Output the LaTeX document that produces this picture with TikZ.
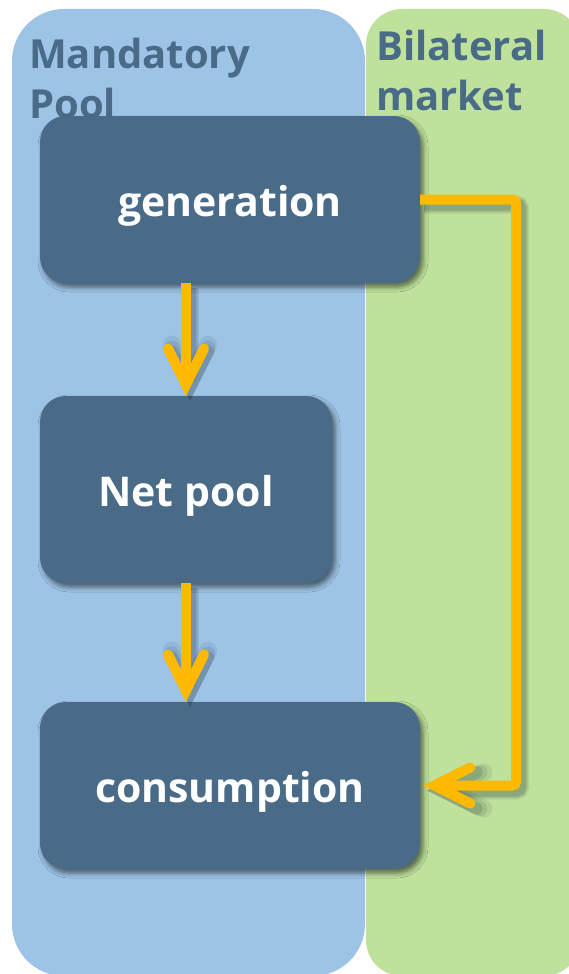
\documentclass[tikz,border=0pt]{standalone}
\usepackage{fontspec}
\setmainfont{Open Sans}
\usetikzlibrary{arrows.meta,shadows.blur}

\definecolor{poolblue}{HTML}{9DC3E6}
\definecolor{marketgreen}{HTML}{BEE19B}
\definecolor{boxblue}{HTML}{4A6B88}
\definecolor{flowgold}{HTML}{FFB900}

\tikzset{
  heading/.style={inner sep=0pt, anchor=base west, align=left, text=boxblue,
    font=\bfseries\fontsize{40pt}{50pt}\selectfont},
  stage/.style={fill=boxblue, rounded corners=26pt, inner sep=0pt, text=white,
    text height=40pt, text depth=6pt,
    font=\bfseries\fontsize{41pt}{49pt}\selectfont,
    blur shadow={shadow xshift=3pt, shadow yshift=-4pt, shadow blur radius=5pt, shadow opacity=55}},
  flowtip/.style={-{Straight Barb[length=36pt, width=36pt, line cap=round, line join=miter]}},
  flow/.style={flowtip, draw=flowgold, line width=10pt, line cap=butt, rounded corners=4pt},
  flowshade/.style={flowtip, draw=black!70!boxblue, line cap=butt, rounded corners=4pt,
    transform canvas={xshift=4pt, yshift=-5pt}},
}

% gold connector with a soft drop shadow underneath
\newcommand\flowpath[1]{%
  \foreach \w/\o in {18/0.08, 15/0.10, 12/0.14}{\draw[flowshade, line width=\w pt, opacity=\o] #1;}%
  \draw[flow] #1;}

\begin{document}
\begin{tikzpicture}[x=1pt, y=-1pt]
  \useasboundingbox (0,0) rectangle (569,974);

  % background lanes
  \fill[poolblue, rounded corners=52pt] (12,9) rectangle (365,976);
  \fill[marketgreen, rounded corners=36pt] (366,9) rectangle (580,976);

  % lane headings (anchored on the baseline of the last line)
  \node[heading] (pooltitle) at (29,118) {Mandatory\\Pool};
  \node[heading] (markettitle) at (376,110) {Bilateral\\market};

  % stages
  \node[stage, minimum width=380pt, minimum height=167pt] (gen) at (230,199.5) {generation};
  \node[stage, minimum width=292pt, minimum height=187pt] (net) at (186,489.5) {Net pool};
  \node[stage, minimum width=380pt, minimum height=167pt] (cons) at (230,785.5) {consumption};

  % flows
  \flowpath{(net.north |- gen.south) -- (net.north)}
  \flowpath{(net.south) -- (net.south |- cons.north)}
  \flowpath{(gen.east) -- ++(96,0) |- ([xshift=3pt]cons.east)}
\end{tikzpicture}
\end{document}
